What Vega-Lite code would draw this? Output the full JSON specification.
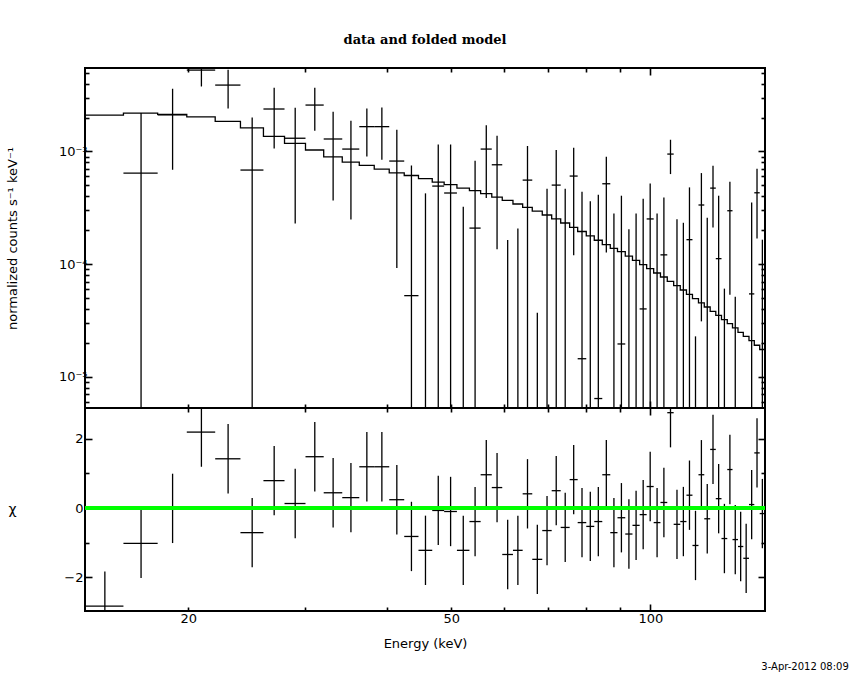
{
  "$schema": "https://vega.github.io/schema/vega-lite/v6.json",
  "background": "white",
  "padding": {"left": 5, "top": 32, "right": 0, "bottom": 0},
  "spacing": 0,
  "bounds": "flush",
  "datasets": {
    "bins": [
      {"e_lo": 13.96, "e_hi": 15.96, "e": 14.96, "rate": null, "rate_lo": null, "rate_hi": null, "chi": -2.83, "chi_lo": -3.83, "chi_hi": -1.83},
      {"e_lo": 15.96, "e_hi": 17.98, "e": 16.97, "rate": 6.43e-4, "rate_lo": 4e-6, "rate_hi": 2.19e-3, "chi": -1.02, "chi_lo": -2.02, "chi_hi": -0.02},
      {"e_lo": 17.98, "e_hi": 19.9, "e": 18.94, "rate": 2.11e-3, "rate_lo": 6.88e-4, "rate_hi": 3.6e-3, "chi": -0.01, "chi_lo": -1.01, "chi_hi": 0.99},
      {"e_lo": 19.9, "e_hi": 21.97, "e": 20.94, "rate": 5.27e-3, "rate_lo": 3.77e-3, "rate_hi": 6.8e-3, "chi": 2.19, "chi_lo": 1.19, "chi_hi": 3.19},
      {"e_lo": 21.97, "e_hi": 23.99, "e": 22.98, "rate": 3.88e-3, "rate_lo": 2.4e-3, "rate_hi": 5.3e-3, "chi": 1.42, "chi_lo": 0.42, "chi_hi": 2.42},
      {"e_lo": 23.99, "e_hi": 25.99, "e": 24.99, "rate": 6.84e-4, "rate_lo": 4e-6, "rate_hi": 2.0e-3, "chi": -0.71, "chi_lo": -1.71, "chi_hi": 0.29},
      {"e_lo": 25.99, "e_hi": 27.97, "e": 26.98, "rate": 2.38e-3, "rate_lo": 1.06e-3, "rate_hi": 3.67e-3, "chi": 0.79, "chi_lo": -0.21, "chi_hi": 1.79},
      {"e_lo": 27.97, "e_hi": 30.09, "e": 29.03, "rate": 1.31e-3, "rate_lo": 2.3e-4, "rate_hi": 2.44e-3, "chi": 0.13, "chi_lo": -0.87, "chi_hi": 1.13},
      {"e_lo": 30.09, "e_hi": 32.06, "e": 31.08, "rate": 2.58e-3, "rate_lo": 1.53e-3, "rate_hi": 3.67e-3, "chi": 1.48, "chi_lo": 0.48, "chi_hi": 2.48},
      {"e_lo": 32.06, "e_hi": 34.2, "e": 33.13, "rate": 1.29e-3, "rate_lo": 3.68e-4, "rate_hi": 2.25e-3, "chi": 0.44, "chi_lo": -0.56, "chi_hi": 1.44},
      {"e_lo": 34.2, "e_hi": 36.29, "e": 35.25, "rate": 1.05e-3, "rate_lo": 2.49e-4, "rate_hi": 1.87e-3, "chi": 0.30, "chi_lo": -0.70, "chi_hi": 1.30},
      {"e_lo": 36.29, "e_hi": 38.23, "e": 37.26, "rate": 1.66e-3, "rate_lo": 9.03e-4, "rate_hi": 2.4e-3, "chi": 1.19, "chi_lo": 0.19, "chi_hi": 2.19},
      {"e_lo": 38.23, "e_hi": 40.28, "e": 39.26, "rate": 1.66e-3, "rate_lo": 8.44e-4, "rate_hi": 2.45e-3, "chi": 1.19, "chi_lo": 0.19, "chi_hi": 2.19},
      {"e_lo": 40.28, "e_hi": 42.44, "e": 41.36, "rate": 8.22e-4, "rate_lo": 9.24e-5, "rate_hi": 1.56e-3, "chi": 0.24, "chi_lo": -0.76, "chi_hi": 1.24},
      {"e_lo": 42.44, "e_hi": 44.6, "e": 43.52, "rate": 5.26e-5, "rate_lo": 4e-6, "rate_hi": 7.52e-4, "chi": -0.82, "chi_lo": -1.82, "chi_hi": 0.18},
      {"e_lo": 44.6, "e_hi": 46.79, "e": 45.70, "rate": null, "rate_lo": 4e-6, "rate_hi": 4.25e-4, "chi": -1.22, "chi_lo": -2.22, "chi_hi": -0.22},
      {"e_lo": 46.79, "e_hi": 48.77, "e": 47.78, "rate": 4.93e-4, "rate_lo": 4e-6, "rate_hi": 1.15e-3, "chi": -0.07, "chi_lo": -1.07, "chi_hi": 0.93},
      {"e_lo": 48.77, "e_hi": 50.99, "e": 49.88, "rate": 4.28e-4, "rate_lo": 4e-6, "rate_hi": 1.15e-3, "chi": -0.10, "chi_lo": -1.10, "chi_hi": 0.90},
      {"e_lo": 50.99, "e_hi": 53.26, "e": 52.13, "rate": null, "rate_lo": 4e-6, "rate_hi": 3.23e-4, "chi": -1.22, "chi_lo": -2.22, "chi_hi": -0.22},
      {"e_lo": 53.26, "e_hi": 55.38, "e": 54.32, "rate": 2.09e-4, "rate_lo": 4e-6, "rate_hi": 8.27e-4, "chi": -0.39, "chi_lo": -1.39, "chi_hi": 0.61},
      {"e_lo": 55.38, "e_hi": 57.57, "e": 56.48, "rate": 1.05e-3, "rate_lo": 3.86e-4, "rate_hi": 1.71e-3, "chi": 0.96, "chi_lo": -0.04, "chi_hi": 1.96},
      {"e_lo": 57.57, "e_hi": 59.71, "e": 58.64, "rate": 7.62e-4, "rate_lo": 1.36e-4, "rate_hi": 1.38e-3, "chi": 0.59, "chi_lo": -0.41, "chi_hi": 1.59},
      {"e_lo": 59.71, "e_hi": 61.98, "e": 60.85, "rate": null, "rate_lo": 4e-6, "rate_hi": 1.64e-4, "chi": -1.34, "chi_lo": -2.34, "chi_hi": -0.34},
      {"e_lo": 61.98, "e_hi": 64.11, "e": 63.05, "rate": null, "rate_lo": 4e-6, "rate_hi": 2.07e-4, "chi": -1.22, "chi_lo": -2.22, "chi_hi": -0.22},
      {"e_lo": 64.11, "e_hi": 66.29, "e": 65.20, "rate": 5.57e-4, "rate_lo": 4e-6, "rate_hi": 1.12e-3, "chi": 0.41, "chi_lo": -0.59, "chi_hi": 1.41},
      {"e_lo": 66.29, "e_hi": 68.64, "e": 67.47, "rate": null, "rate_lo": 4e-6, "rate_hi": 3.71e-5, "chi": -1.48, "chi_lo": -2.48, "chi_hi": -0.48},
      {"e_lo": 68.64, "e_hi": 70.93, "e": 69.79, "rate": null, "rate_lo": 4e-6, "rate_hi": 4.67e-4, "chi": -0.65, "chi_lo": -1.65, "chi_hi": 0.35},
      {"e_lo": 70.93, "e_hi": 73.19, "e": 72.06, "rate": 5.03e-4, "rate_lo": 4e-6, "rate_hi": 1.03e-3, "chi": 0.50, "chi_lo": -0.50, "chi_hi": 1.50},
      {"e_lo": 73.19, "e_hi": 75.51, "e": 74.35, "rate": null, "rate_lo": 4e-6, "rate_hi": 4.67e-4, "chi": -0.56, "chi_lo": -1.56, "chi_hi": 0.44},
      {"e_lo": 75.51, "e_hi": 77.65, "e": 76.58, "rate": 6.05e-4, "rate_lo": 1.2e-4, "rate_hi": 1.08e-3, "chi": 0.82, "chi_lo": -0.18, "chi_hi": 1.82},
      {"e_lo": 77.65, "e_hi": 80.01, "e": 78.83, "rate": 1.45e-5, "rate_lo": 4e-6, "rate_hi": 4.4e-4, "chi": -0.42, "chi_lo": -1.42, "chi_hi": 0.58},
      {"e_lo": 80.01, "e_hi": 82.27, "e": 81.14, "rate": null, "rate_lo": 4e-6, "rate_hi": 3.61e-4, "chi": -0.53, "chi_lo": -1.53, "chi_hi": 0.47},
      {"e_lo": 82.27, "e_hi": 84.6, "e": 83.44, "rate": 6.43e-6, "rate_lo": 4e-6, "rate_hi": 4.13e-4, "chi": -0.39, "chi_lo": -1.39, "chi_hi": 0.61},
      {"e_lo": 84.6, "e_hi": 86.99, "e": 85.80, "rate": 5.17e-4, "rate_lo": 1.27e-4, "rate_hi": 8.97e-4, "chi": 0.96, "chi_lo": -0.04, "chi_hi": 1.96},
      {"e_lo": 86.99, "e_hi": 89.2, "e": 88.10, "rate": null, "rate_lo": 4e-6, "rate_hi": 2.81e-4, "chi": -0.71, "chi_lo": -1.71, "chi_hi": 0.29},
      {"e_lo": 89.2, "e_hi": 91.65, "e": 90.43, "rate": 1.96e-5, "rate_lo": 4e-6, "rate_hi": 4.05e-4, "chi": -0.28, "chi_lo": -1.28, "chi_hi": 0.72},
      {"e_lo": 91.65, "e_hi": 93.98, "e": 92.82, "rate": null, "rate_lo": 4e-6, "rate_hi": 2.04e-4, "chi": -0.75, "chi_lo": -1.75, "chi_hi": 0.25},
      {"e_lo": 93.98, "e_hi": 96.36, "e": 95.17, "rate": null, "rate_lo": 4e-6, "rate_hi": 2.81e-4, "chi": -0.50, "chi_lo": -1.50, "chi_hi": 0.50},
      {"e_lo": 96.36, "e_hi": 98.74, "e": 97.55, "rate": 4.01e-5, "rate_lo": 4e-6, "rate_hi": 3.81e-4, "chi": -0.19, "chi_lo": -1.19, "chi_hi": 0.81},
      {"e_lo": 98.74, "e_hi": 101.18, "e": 99.96, "rate": 2.52e-4, "rate_lo": 4e-6, "rate_hi": 5.21e-4, "chi": 0.62, "chi_lo": -0.38, "chi_hi": 1.62},
      {"e_lo": 101.18, "e_hi": 103.6, "e": 102.39, "rate": null, "rate_lo": 4e-6, "rate_hi": 2.81e-4, "chi": -0.42, "chi_lo": -1.42, "chi_hi": 0.58},
      {"e_lo": 103.6, "e_hi": 106.09, "e": 104.85, "rate": 1.21e-4, "rate_lo": 4e-6, "rate_hi": 3.91e-4, "chi": 0.16, "chi_lo": -0.84, "chi_hi": 1.16},
      {"e_lo": 106.09, "e_hi": 108.48, "e": 107.29, "rate": 9.48e-4, "rate_lo": 6.3e-4, "rate_hi": 1.27e-3, "chi": 2.75, "chi_lo": 1.75, "chi_hi": 3.75},
      {"e_lo": 108.48, "e_hi": 111.0, "e": 109.74, "rate": null, "rate_lo": 4e-6, "rate_hi": 2.5e-4, "chi": -0.47, "chi_lo": -1.47, "chi_hi": 0.53},
      {"e_lo": 111.0, "e_hi": 113.42, "e": 112.21, "rate": null, "rate_lo": 4e-6, "rate_hi": 2.33e-4, "chi": -0.39, "chi_lo": -1.39, "chi_hi": 0.61},
      {"e_lo": 113.42, "e_hi": 115.82, "e": 114.62, "rate": 1.65e-4, "rate_lo": 4e-6, "rate_hi": 4.8e-4, "chi": 0.37, "chi_lo": -0.63, "chi_hi": 1.37},
      {"e_lo": 115.82, "e_hi": 118.27, "e": 117.05, "rate": null, "rate_lo": 4e-6, "rate_hi": 2.29e-5, "chi": -1.08, "chi_lo": -2.08, "chi_hi": -0.08},
      {"e_lo": 118.27, "e_hi": 120.68, "e": 119.48, "rate": 3.35e-4, "rate_lo": 3.11e-5, "rate_hi": 6.43e-4, "chi": 0.96, "chi_lo": -0.04, "chi_hi": 1.96},
      {"e_lo": 120.68, "e_hi": 123.19, "e": 121.94, "rate": null, "rate_lo": 4e-6, "rate_hi": 2.58e-4, "chi": -0.31, "chi_lo": -1.31, "chi_hi": 0.69},
      {"e_lo": 123.19, "e_hi": 125.62, "e": 124.41, "rate": 4.73e-4, "rate_lo": 2.12e-4, "rate_hi": 7.47e-4, "chi": 1.69, "chi_lo": 0.69, "chi_hi": 2.69},
      {"e_lo": 125.62, "e_hi": 128.14, "e": 126.88, "rate": 1.12e-4, "rate_lo": 4e-6, "rate_hi": 4.05e-4, "chi": 0.27, "chi_lo": -0.73, "chi_hi": 1.27},
      {"e_lo": 128.14, "e_hi": 130.75, "e": 129.45, "rate": null, "rate_lo": 4e-6, "rate_hi": 6.07e-5, "chi": -0.88, "chi_lo": -1.88, "chi_hi": 0.12},
      {"e_lo": 130.75, "e_hi": 133.15, "e": 131.95, "rate": 2.98e-4, "rate_lo": 5.37e-5, "rate_hi": 5.39e-4, "chi": 1.11, "chi_lo": 0.11, "chi_hi": 2.11},
      {"e_lo": 133.15, "e_hi": 135.72, "e": 134.44, "rate": null, "rate_lo": 4e-6, "rate_hi": 5.15e-5, "chi": -0.91, "chi_lo": -1.91, "chi_hi": 0.09},
      {"e_lo": 135.72, "e_hi": 138.25, "e": 136.99, "rate": null, "rate_lo": null, "rate_hi": null, "chi": -1.11, "chi_lo": -2.11, "chi_hi": -0.11},
      {"e_lo": 138.25, "e_hi": 141.02, "e": 139.64, "rate": null, "rate_lo": null, "rate_hi": null, "chi": -1.45, "chi_lo": -2.45, "chi_hi": -0.45},
      {"e_lo": 141.02, "e_hi": 143.65, "e": 142.34, "rate": 5.45e-5, "rate_lo": 4e-6, "rate_hi": 3.53e-4, "chi": 0.10, "chi_lo": -0.90, "chi_hi": 1.10},
      {"e_lo": 143.65, "e_hi": 146.38, "e": 145.02, "rate": 4.3e-4, "rate_lo": 1.69e-4, "rate_hi": 7.03e-4, "chi": 1.59, "chi_lo": 0.59, "chi_hi": 2.59},
      {"e_lo": 146.38, "e_hi": 149.11, "e": 147.75, "rate": null, "rate_lo": 4e-6, "rate_hi": 1.65e-4, "chi": -0.16, "chi_lo": -1.16, "chi_hi": 0.84}
    ],
    "model": [
      {"e": 13.96, "m": 2.10e-3}, {"e": 15.96, "m": 2.19e-3}, {"e": 17.98, "m": 2.13e-3},
      {"e": 19.9, "m": 2.03e-3}, {"e": 21.97, "m": 1.85e-3}, {"e": 23.99, "m": 1.62e-3},
      {"e": 25.99, "m": 1.36e-3}, {"e": 27.97, "m": 1.18e-3}, {"e": 30.09, "m": 1.03e-3},
      {"e": 32.06, "m": 8.97e-4}, {"e": 34.2, "m": 8.05e-4}, {"e": 36.29, "m": 7.52e-4},
      {"e": 38.23, "m": 6.98e-4}, {"e": 40.28, "m": 6.47e-4}, {"e": 42.44, "m": 6.12e-4},
      {"e": 44.6, "m": 5.73e-4}, {"e": 46.79, "m": 5.35e-4}, {"e": 48.77, "m": 5.07e-4},
      {"e": 50.99, "m": 4.73e-4}, {"e": 53.26, "m": 4.49e-4}, {"e": 55.38, "m": 4.22e-4},
      {"e": 57.57, "m": 3.94e-4}, {"e": 59.71, "m": 3.68e-4}, {"e": 61.98, "m": 3.42e-4},
      {"e": 64.11, "m": 3.19e-4}, {"e": 66.29, "m": 2.96e-4}, {"e": 68.64, "m": 2.73e-4},
      {"e": 70.93, "m": 2.52e-4}, {"e": 73.19, "m": 2.32e-4}, {"e": 75.51, "m": 2.12e-4},
      {"e": 77.65, "m": 1.95e-4}, {"e": 80.01, "m": 1.78e-4}, {"e": 82.27, "m": 1.63e-4},
      {"e": 84.6, "m": 1.49e-4}, {"e": 86.99, "m": 1.38e-4}, {"e": 89.2, "m": 1.29e-4},
      {"e": 91.65, "m": 1.18e-4}, {"e": 93.98, "m": 1.08e-4}, {"e": 96.36, "m": 9.9e-5},
      {"e": 98.74, "m": 9.13e-5}, {"e": 101.18, "m": 8.35e-5}, {"e": 103.6, "m": 7.7e-5},
      {"e": 106.09, "m": 7.05e-5}, {"e": 108.48, "m": 6.45e-5}, {"e": 111.0, "m": 5.9e-5},
      {"e": 113.42, "m": 5.4e-5}, {"e": 115.82, "m": 4.94e-5}, {"e": 118.27, "m": 4.53e-5},
      {"e": 120.68, "m": 4.17e-5}, {"e": 123.19, "m": 3.82e-5}, {"e": 125.62, "m": 3.52e-5},
      {"e": 128.14, "m": 3.22e-5}, {"e": 130.75, "m": 2.97e-5}, {"e": 133.15, "m": 2.72e-5},
      {"e": 135.72, "m": 2.48e-5}, {"e": 138.25, "m": 2.29e-5}, {"e": 141.02, "m": 2.10e-5},
      {"e": 143.65, "m": 1.91e-5}, {"e": 146.38, "m": 1.75e-5}, {"e": 149.11, "m": 1.75e-5}
    ]
  },
  "vconcat": [
    {
      "width": 680,
      "height": 340,
      "title": {"text": "data and folded model", "font": "DejaVu Serif", "fontSize": 13, "fontWeight": "bold", "color": "black", "offset": 20, "anchor": "middle"},
      "layer": [
        {
          "data": {"name": "model"},
          "mark": {"type": "line", "interpolate": "step-after", "color": "black", "strokeWidth": 1.3, "clip": true},
          "encoding": {
            "x": {
              "field": "e", "type": "quantitative",
              "scale": {"type": "log", "domain": [13.96, 149.11], "nice": false},
              "axis": {
                "orient": "bottom", "title": null, "labels": false,
                "values": [20, 30, 40, 50, 60, 70, 80, 90, 100],
                "tickDash": {"condition": {"test": "datum.value == 100", "value": [10, 0]}, "value": [4, 20]}
              }
            },
            "y": {
              "field": "m", "type": "quantitative",
              "scale": {"type": "log", "domain": [5.3e-6, 5.5e-3], "nice": false},
              "axis": {
                "orient": "left",
                "title": "normalized counts s⁻¹ keV⁻¹",
                "titleX": -73, "titleBaseline": "middle",
                "labelPadding": 5,
                "values": [0.000006, 0.000007, 0.000008, 0.000009, 0.00001, 0.00002, 0.00003, 0.00004, 0.00005, 0.00006, 0.00007, 0.00008, 0.00009, 0.0001, 0.0002, 0.0003, 0.0004, 0.0005, 0.0006, 0.0007, 0.0008, 0.0009, 0.001, 0.002, 0.003, 0.004, 0.005],
                "labelExpr": "datum.value == 0.001 ? '10⁻³' : datum.value == 0.0001 ? '10⁻⁴' : datum.value == 0.00001 ? '10⁻⁵' : ''",
                "tickDash": {"condition": {"test": "datum.value == 0.001 || datum.value == 0.0001 || datum.value == 0.00001", "value": [10, 0]}, "value": [4, 20]}
              }
            }
          }
        },
        {
          "data": {"name": "bins"},
          "transform": [{"filter": "isValid(datum.rate_hi)"}],
          "mark": {"type": "rule", "color": "black", "strokeWidth": 1.3, "clip": true},
          "encoding": {
            "x": {
              "field": "e", "type": "quantitative",
              "scale": {"type": "log", "domain": [13.96, 149.11], "nice": false},
              "axis": {
                "orient": "top", "title": null, "labels": false,
                "values": [20, 30, 40, 50, 60, 70, 80, 90, 100],
                "tickDash": {"condition": {"test": "datum.value == 100", "value": [10, 0]}, "value": [4, 20]}
              }
            },
            "y": {
              "field": "rate_lo", "type": "quantitative",
              "scale": {"type": "log", "domain": [5.3e-6, 5.5e-3], "nice": false},
              "axis": {
                "orient": "right", "title": null, "labels": false,
                "values": [0.000006, 0.000007, 0.000008, 0.000009, 0.00001, 0.00002, 0.00003, 0.00004, 0.00005, 0.00006, 0.00007, 0.00008, 0.00009, 0.0001, 0.0002, 0.0003, 0.0004, 0.0005, 0.0006, 0.0007, 0.0008, 0.0009, 0.001, 0.002, 0.003, 0.004, 0.005],
                "tickDash": {"condition": {"test": "datum.value == 0.001 || datum.value == 0.0001 || datum.value == 0.00001", "value": [10, 0]}, "value": [4, 20]}
              }
            },
            "y2": {"field": "rate_hi"}
          }
        },
        {
          "data": {"name": "bins"},
          "transform": [{"filter": "isValid(datum.rate)"}],
          "mark": {"type": "rule", "color": "black", "strokeWidth": 1.3, "clip": true},
          "encoding": {
            "x": {
              "field": "e_lo", "type": "quantitative",
              "scale": {"type": "log", "domain": [13.96, 149.11], "nice": false},
              "axis": null
            },
            "x2": {"field": "e_hi"},
            "y": {
              "field": "rate", "type": "quantitative",
              "scale": {"type": "log", "domain": [5.3e-6, 5.5e-3], "nice": false},
              "axis": null
            }
          }
        }
      ],
      "resolve": {"axis": {"x": "independent", "y": "independent"}}
    },
    {
      "width": 680,
      "height": 203,
      "title": {"text": "3-Apr-2012 08:09", "orient": "bottom", "anchor": "end", "font": "DejaVu Sans", "fontSize": 10, "fontWeight": "normal", "color": "black", "dx": 83, "offset": 12},
      "data": {"name": "bins"},
      "layer": [
        {
          "mark": {"type": "rule", "color": "black", "strokeWidth": 1.3, "clip": true},
          "encoding": {
            "x": {
              "field": "e", "type": "quantitative",
              "scale": {"type": "log", "domain": [13.96, 149.11], "nice": false},
              "axis": {
                "orient": "bottom", "title": "Energy (keV)",
                "titleY": 32, "titleBaseline": "middle",
                "labelPadding": 8,
                "values": [20, 30, 40, 50, 60, 70, 80, 90, 100],
                "labelExpr": "datum.value == 20 ? '20' : datum.value == 50 ? '50' : datum.value == 100 ? '100' : ''",
                "tickDash": {"condition": {"test": "datum.value == 100", "value": [10, 0]}, "value": [4, 20]}
              }
            },
            "y": {
              "field": "chi_lo", "type": "quantitative",
              "scale": {"domain": [-2.97, 2.885], "nice": false, "zero": false},
              "axis": {
                "orient": "left", "title": "χ",
                "titleX": -73, "titleAngle": 0, "titleAlign": "center", "titleBaseline": "middle", "titleFontSize": 14,
                "labelPadding": 9,
                "values": [-2, -1, 0, 1, 2],
                "labelExpr": "datum.value == 2 ? '2' : datum.value == 0 ? '0' : datum.value == -2 ? '−2' : ''",
                "tickDash": {"condition": {"test": "datum.value % 2 == 0", "value": [10, 0]}, "value": [4, 20]}
              }
            },
            "y2": {"field": "chi_hi"}
          }
        },
        {
          "mark": {"type": "rule", "color": "black", "strokeWidth": 1.3, "clip": true},
          "encoding": {
            "x": {
              "field": "e_lo", "type": "quantitative",
              "scale": {"type": "log", "domain": [13.96, 149.11], "nice": false},
              "axis": {
                "orient": "top", "title": null, "labels": false,
                "values": [20, 30, 40, 50, 60, 70, 80, 90, 100],
                "tickDash": {"condition": {"test": "datum.value == 100", "value": [10, 0]}, "value": [4, 20]}
              }
            },
            "x2": {"field": "e_hi"},
            "y": {
              "field": "chi", "type": "quantitative",
              "scale": {"domain": [-2.97, 2.885], "nice": false, "zero": false},
              "axis": {
                "orient": "right", "title": null, "labels": false,
                "values": [-2, -1, 0, 1, 2],
                "tickDash": {"condition": {"test": "datum.value % 2 == 0", "value": [10, 0]}, "value": [4, 20]}
              }
            }
          }
        },
        {
          "mark": {"type": "rule", "color": "#00ff00", "strokeWidth": 2.5, "clip": true},
          "encoding": {
            "y": {"datum": 0, "type": "quantitative", "scale": {"domain": [-2.97, 2.885], "nice": false, "zero": false}, "axis": null}
          }
        }
      ],
      "resolve": {"axis": {"x": "independent", "y": "independent"}}
    }
  ],
  "config": {
    "font": "DejaVu Sans",
    "view": {"stroke": "black", "strokeWidth": 2},
    "axis": {
      "domain": false,
      "grid": false,
      "zindex": 1,
      "tickColor": "black",
      "tickWidth": 1.6,
      "tickSize": -7,
      "labelFont": "DejaVu Sans",
      "labelFontSize": 13,
      "labelColor": "black",
      "labelOverlap": false,
      "labelFlush": false,
      "titleFont": "DejaVu Sans",
      "titleFontSize": 13,
      "titleFontWeight": "normal",
      "titleColor": "black"
    }
  }
}
